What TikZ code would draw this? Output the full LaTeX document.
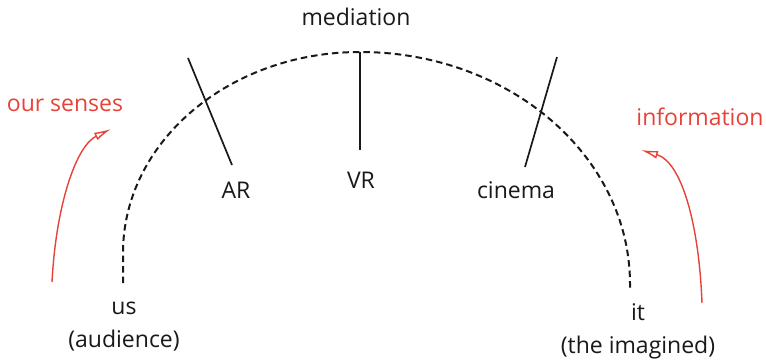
\documentclass[tikz,border=0pt]{standalone}
\usepackage{fontspec}
\setmainfont{Open Sans}
\usetikzlibrary{arrows.meta}
\definecolor{rd}{RGB}{232,66,56}
\definecolor{ink}{RGB}{25,25,25}
\begin{document}
\begin{tikzpicture}[x=1pt,y=-1pt,
  lbl/.style={font=\fontsize{23}{33}\selectfont, text=ink, inner sep=0pt, align=center},
  rlbl/.style={font=\fontsize{23}{33}\selectfont, text=rd, inner sep=0pt},
  arcline/.style={draw=ink, line width=2pt, dash pattern=on 6.5pt off 4pt},
  tick/.style={draw=ink, line width=1.7pt},
  redarrow/.style={draw=rd, line width=1.4pt, -{Latex[open, length=17pt, width=8pt]}}]
\useasboundingbox (0,0) rectangle (766,361);
% dashed arc
\coordinate (aL) at (123,283);
\coordinate (aT) at (360,52);
\coordinate (aR) at (630,290);
\draw[arcline] (aL) -- (123,253) .. controls (123,142) and (229,52) .. (aT)
  .. controls (509,52) and (630,156) .. (630,284) -- (aR);
% ticks
\coordinate (ar1) at (188,58);  \coordinate (ar2) at (232,165);
\coordinate (vr2) at (360,150);
\coordinate (ci1) at (557,57);  \coordinate (ci2) at (525,167);
\draw[tick] (ar1) -- (ar2);
\draw[tick] (aT) -- (vr2);
\draw[tick] (ci1) -- (ci2);
% labels
\node[lbl] (med) at (356,17) {mediation};
\node[lbl] (ar) at (236,190) {AR};
\node[lbl] (vr) at (361,180) {VR};
\node[lbl] (cin) at (516,190) {cinema};
\node[lbl] (us) at (124,327) {us\\(audience)};
\node[lbl] (it) at (638,331) {it\\(the imagined)};
\node[rlbl] (sen) at (65,105) {our senses};
\node[rlbl] (inf) at (700,117) {information};
% red arrows
\coordinate (s0) at (52,282); \coordinate (s1) at (111,129);
\coordinate (i0) at (702,303); \coordinate (i1) at (641,150);
\draw[redarrow] (s0) .. controls (56,205) and (76,146) .. (s1);
\draw[redarrow] (i0) .. controls (699,225) and (682,162) .. (i1);
\end{tikzpicture}
\end{document}
